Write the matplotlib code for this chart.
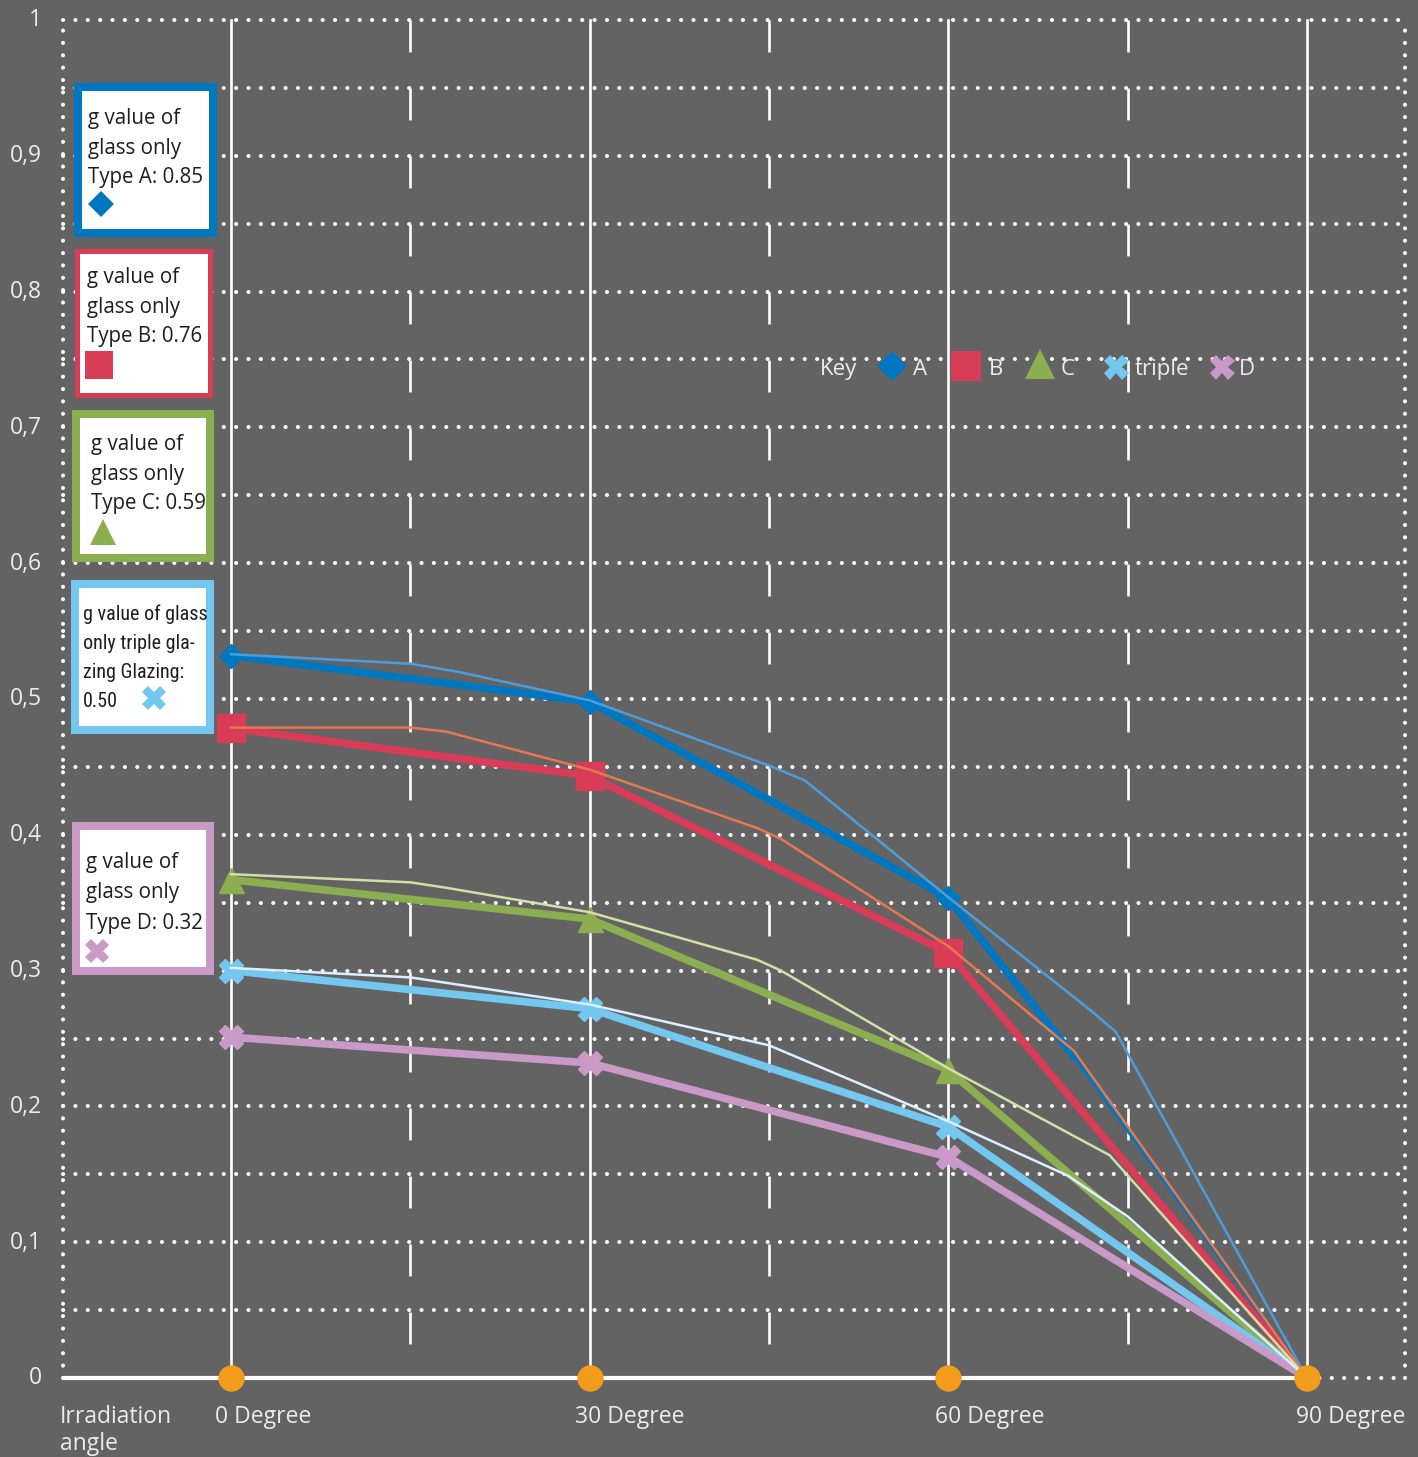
import matplotlib
matplotlib.use("Agg")
import matplotlib.pyplot as plt
import matplotlib.transforms as mtrans
from matplotlib import font_manager
from matplotlib.lines import Line2D
from matplotlib.patches import Rectangle
import numpy as np

plt.rcParams['font.family'] = ['Open Sans', 'DejaVu Sans']
plt.rcParams['lines.scale_dashes'] = False

W, H = 1418, 1457
BG = '#636363'
TXT = '#ececec'
DARK = '#1e1e1e'

# colours of the five glass types
c_A = '#0078c1'
c_B = '#d83c57'
c_C = '#8aae50'
c_T = '#74c7ef'
c_D = '#c999c8'
c_A_thin = '#4d9ddc'
c_B_thin = '#e57850'
c_C_thin = '#d3dfa8'
c_T_thin = '#dcefff'
c_dot = '#f39c1c'

# measured g values (thick lines with markers)
angles = [0, 30, 60, 90]
ang_A = [0, 30, 60, 70.5]
g_A = [0.532, 0.498, 0.3535, 0.237]
g_B = [0.4786, 0.4433, 0.313, 0.0]
g_C = [0.367, 0.338, 0.2268, 0.0]
g_T = [0.300, 0.272, 0.185, 0.0]
g_D = [0.251, 0.232, 0.1627, 0.0]

# thin curves
thin_A_ang = [0, 15, 19, 30, 45, 48, 60, 72, 74, 90]
thin_A = [0.533, 0.526, 0.520, 0.499, 0.451, 0.440, 0.354, 0.270, 0.255, 0.0]
thin_B_ang = [0, 15, 18, 30, 44, 46, 60, 70.5, 90]
thin_B = [0.479, 0.479, 0.476, 0.448, 0.405, 0.397, 0.318, 0.241, 0.0]
thin_C_ang = [0, 15, 18, 30, 44, 46, 60, 73.5, 90]
thin_C = [0.371, 0.365, 0.361, 0.343, 0.308, 0.300, 0.228, 0.164, 0.0]
thin_T_ang = [0, 15, 30, 45, 60, 70, 75, 90]
thin_T = [0.302, 0.295, 0.275, 0.245, 0.189, 0.149, 0.119, 0.0]

yticks = [0, 0.1, 0.2, 0.3, 0.4, 0.5, 0.6, 0.7, 0.8, 0.9, 1.0]
ytick_labels = ['0', '0,1', '0,2', '0,3', '0,4', '0,5', '0,6', '0,7', '0,8', '0,9', '1']
x_labels = ['0 Degree', '30 Degree', '60 Degree', '90 Degree']
x_label_px = [215, 575, 935, 1296]

XMIN, XMAX = -14.05, 98.2


def fx(px):
    return px / W


def fy(py):
    return 1 - py / H


fig = plt.figure(figsize=(W / 100, H / 100), dpi=100, facecolor=BG)
ax = fig.add_axes([fx(63), fy(1378), fx(1405) - fx(63), fy(20) - fy(1378)])
ax.set_facecolor(BG)
ax.set_xlim(XMIN, XMAX)
ax.set_ylim(0, 1)
for s in ax.spines.values():
    s.set_visible(False)
ax.set_xticks([])
ax.set_yticks(yticks)
ax.set_yticklabels(ytick_labels, color=TXT, fontsize=16.5)
ax.tick_params(axis='y', length=0, pad=15)
# labels sit a little above their grid lines in the original
off = mtrans.ScaledTranslation(0, 2.5 / 100, fig.dpi_scale_trans)
for t in ax.get_yticklabels():
    t.set_transform(t.get_transform() + off)

dots = dict(color='white', lw=2.9, linestyle=(0, (0.1, 8.8)),
            dash_capstyle='round', clip_on=False, zorder=1)

# dotted horizontal grid every 0.05
for yv in np.arange(0.05, 1.0001, 0.05):
    ax.plot([XMIN, XMAX], [yv, yv], **dots)
ax.plot([XMIN, XMIN], [0, 1], **dots)
ax.plot([XMAX, XMAX], [0, 1], **dots)
ax.plot([90, XMAX], [0, 0], **dots)
ax.plot([XMIN, 90], [0, 0], color='white', lw=3, solid_capstyle='butt',
        clip_on=False, zorder=2)

# vertical lines
for a in angles:
    ax.plot([a, a], [0, 1], color='white', lw=1.9, zorder=1.5, clip_on=False)
for a in [15, 45, 75]:
    ax.plot([a, a], [1, 0], color='white', lw=1.9, zorder=1.5,
            linestyle=(0, (23, 25.96)), dash_capstyle='butt')

# thick measured lines
ax.plot(ang_A, g_A, color=c_A, lw=5.5, marker='D', ms=12, zorder=3,
        markevery=[0, 1, 2], solid_joinstyle='round')
ax.plot([ang_A[-1], 90], [g_A[-1], 0], color=c_A, lw=2.5, zorder=3)
ax.plot(angles, g_B, color=c_B, lw=5.5, marker='s', ms=19.5, zorder=3,
        markevery=[0, 1, 2], solid_joinstyle='round')
ax.plot(angles, g_C, color=c_C, lw=5.5, marker='^', ms=18, zorder=3,
        markevery=[0, 1, 2], solid_joinstyle='round')
ax.plot(angles, g_T, color=c_T, lw=5.5, marker='X', ms=17, zorder=3,
        markevery=[0, 1, 2], solid_joinstyle='round')
ax.plot(angles, g_D, color=c_D, lw=5.5, marker='X', ms=17, zorder=3,
        markevery=[0, 1, 2], solid_joinstyle='round')

# thin curves
ax.plot(thin_A_ang, thin_A, color=c_A_thin, lw=1.8, zorder=4)
ax.plot(thin_B_ang, thin_B, color=c_B_thin, lw=1.8, zorder=4)
ax.plot(thin_C_ang, thin_C, color=c_C_thin, lw=1.8, zorder=4)
ax.plot(thin_T_ang, thin_T, color=c_T_thin, lw=1.8, zorder=4)

# orange points on the angle axis
ax.plot(angles, [0] * len(angles), 'o', color=c_dot, ms=19, zorder=6,
        clip_on=False, markeredgewidth=0)

# bottom labels
fig.text(fx(60), fy(1423), 'Irradiation', color=TXT, fontsize=16.5, va='baseline')
fig.text(fx(60), fy(1450), 'angle', color=TXT, fontsize=16.5, va='baseline')
for lab, px in zip(x_labels, x_label_px):
    fig.text(fx(px), fy(1423), lab, color=TXT, fontsize=16.5, va='baseline')

# condensed font for the triple glazing box
names = {f.name for f in font_manager.fontManager.ttflist}
cond = None
for fam, size in [('Liberation Sans Narrow', 15), ('Roboto Condensed', 14.5),
                  ('Open Sans Condensed', 14.5), ('Noto Sans Condensed', 14)]:
    if fam in names:
        cond = dict(family=fam, fontsize=size)
        break
if cond is None:
    if any(f.name == 'DejaVu Sans' and str(f.stretch) in ('condensed', '75')
           for f in font_manager.fontManager.ttflist):
        cond = dict(family='DejaVu Sans', stretch='condensed', fontsize=13)
    else:
        cond = dict(family='Open Sans', fontsize=12.2)


def box(x0, y0, x1, y1, color, lw_px):
    r = Rectangle((fx(x0), fy(y1)), fx(x1) - fx(x0), fy(y0) - fy(y1),
                  transform=fig.transFigure, facecolor='white',
                  edgecolor=color, lw=lw_px * 0.72, zorder=10)
    fig.add_artist(r)


def mark(px, py, marker, color, ms, z=11):
    fig.add_artist(Line2D([fx(px)], [fy(py)], marker=marker, color=color,
                          ms=ms, markeredgewidth=0, linestyle='none',
                          transform=fig.transFigure, zorder=z))


def lines(x, ys, texts, **kw):
    style = dict(color=DARK, fontsize=14.8, va='baseline', zorder=12)
    style.update(kw)
    for yy, t in zip(ys, texts):
        fig.text(fx(x), fy(yy), t, **style)


box(78, 87, 213, 233, c_A, 8)
lines(88, [124, 154, 183], ['g value of', 'glass only', 'Type A: 0.85'])
mark(101, 204, 'D', c_A, 13.5)

box(76.5, 250.5, 209.5, 394.5, c_B, 5)
lines(87, [283, 313, 342], ['g value of', 'glass only', 'Type B: 0.76'])
mark(99, 365, 's', c_B, 19.5)

box(76, 414, 210, 558, c_C, 8)
lines(91, [450, 480, 509], ['g value of', 'glass only', 'Type C: 0.59'])
mark(103, 532, '^', c_C, 19)

box(75, 584, 210, 730, c_T, 8)
lines(83, [620, 649, 678, 707],
      ['g value of glass', 'only triple gla-', 'zing Glazing:', '0.50'], **cond)
mark(154, 698, 'X', c_T, 17)

box(76, 826, 210, 971, c_D, 8)
lines(86, [868, 898, 929], ['g value of', 'glass only', 'Type D: 0.32'])
mark(97, 951, 'X', c_D, 17)

# key
ky = 367
fig.text(fx(820), fy(ky), 'Key', color=TXT, fontsize=16, va='center_baseline')
mark(892, ky - 1, 'D', c_A, 15)
fig.text(fx(913), fy(ky), 'A', color=TXT, fontsize=16, va='center_baseline')
mark(966, ky - 1, 's', c_B, 22)
fig.text(fx(989), fy(ky), 'B', color=TXT, fontsize=16, va='center_baseline')
mark(1040, ky - 3, '^', c_C, 22)
fig.text(fx(1061), fy(ky), 'C', color=TXT, fontsize=16, va='center_baseline')
mark(1116, ky, 'X', c_T, 18)
fig.text(fx(1135), fy(ky), 'triple', color=TXT, fontsize=16, va='center_baseline')
mark(1222, ky, 'X', c_D, 18)
fig.text(fx(1239), fy(ky), 'D', color=TXT, fontsize=16, va='center_baseline')

fig.savefig('out.png', dpi=100, facecolor=BG)
